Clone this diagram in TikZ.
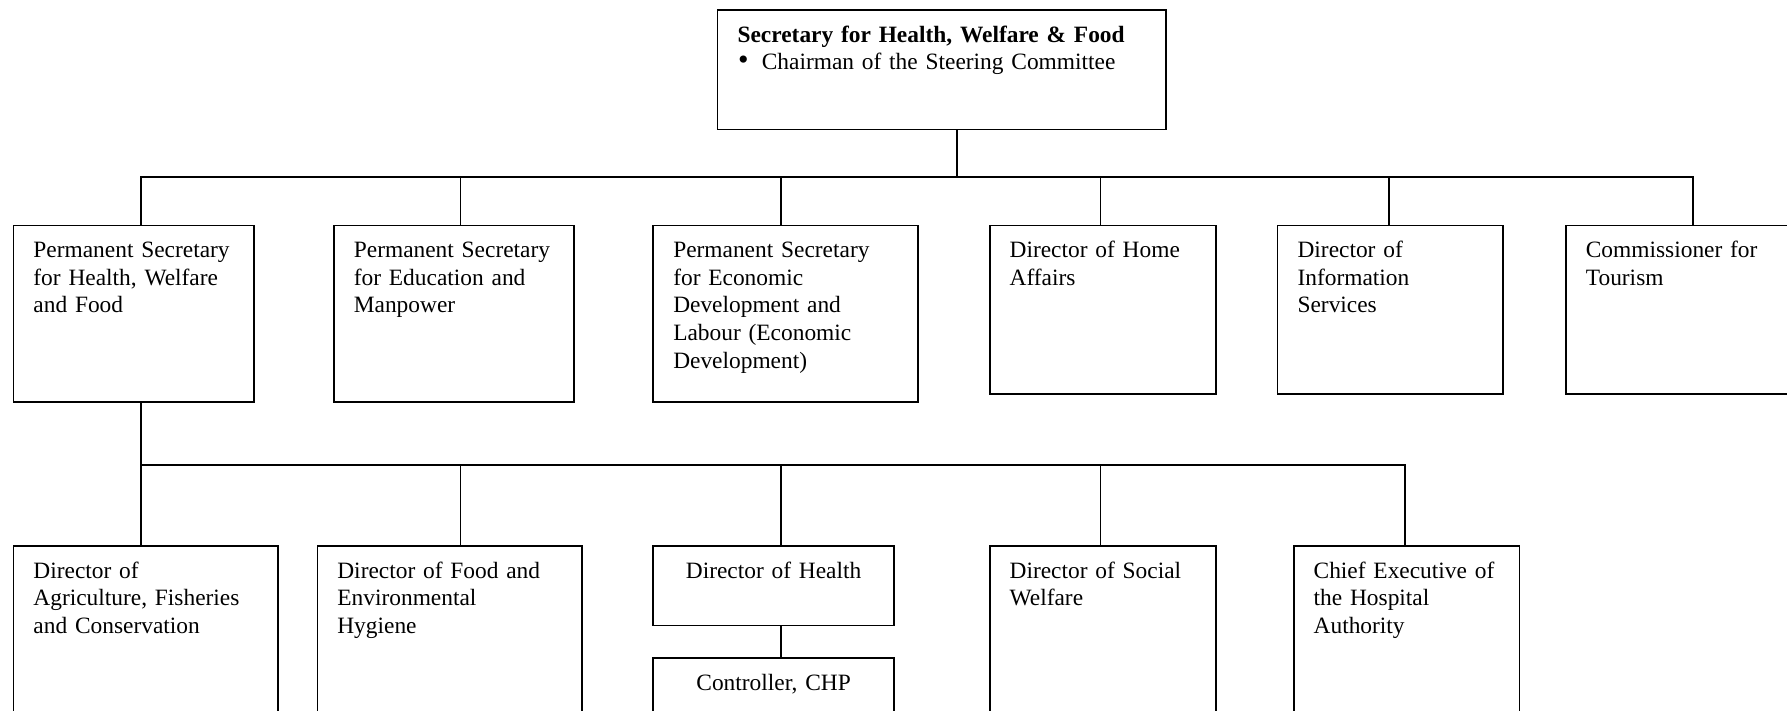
\documentclass[tikz,border=0pt]{standalone}
\usepackage{fontspec}
\setmainfont{Liberation Serif}
\newcommand\nohyph{\hyphenpenalty=10000\relax\exhyphenpenalty=10000\relax}
\begin{document}
\begin{tikzpicture}[x=1pt,y=-1pt,
  obox/.style={draw, line width=1.7pt, anchor=north west, inner xsep=20pt, inner ysep=0pt,
    align=left, text height=32.2pt,
    font=\fontsize{23.4}{27.6}\selectfont\nohyph},
  ocenter/.style={obox, align=center},
  wire/.style={line width=1.7pt}]
\useasboundingbox (0,0) rectangle (1787,710);
% top
\node[obox, text width=408.3pt, text depth=87.5pt] (top) at (716.7,9)
  {\textbf{Secretary~for~Health,~Welfare~\&~Food}\\\makebox[24.3pt][l]{\hspace{0.5pt}{\fontsize{30}{30}\selectfont\textbullet}}Chairman~of~the~Steering~Committee};
% row 1
\node[obox, text width=200.2pt, text depth=144.3pt] (b1) at (12.6,224.7)
  {Permanent~Secretary\\for~Health,~Welfare\\and~Food};
\node[obox, text width=200pt, text depth=144.3pt] (b2) at (333,224.7)
  {Permanent~Secretary\\for~Education~and\\Manpower};
\node[obox, text width=224.5pt, text depth=144.3pt] (b3) at (652.4,224.7)
  {Permanent~Secretary\\for~Economic\\Development~and\\Labour~(Economic\\Development)};
\node[obox, text width=186.2pt, text depth=136.3pt] (b4) at (988.8,224.7)
  {Director~of~Home\\Affairs};
\node[obox, text width=185.6pt, text depth=136.3pt] (b5) at (1276.7,224.7)
  {Director~of\\Information\\Services};
\node[obox, text width=200pt, text depth=136.3pt] (b6) at (1565,224.7)
  {Commissioner~for\\Tourism};
% row 2
\node[obox, text width=224.4pt, text depth=167.8pt] (c1) at (12.6,545)
  {Director~of\\Agriculture,~Fisheries\\and~Conservation};
\node[obox, text width=224.5pt, text depth=167.8pt] (c2) at (316.5,545)
  {Director~of~Food~and\\Environmental\\Hygiene};
\node[ocenter, text width=200.7pt, text depth=47.3pt] (c3) at (652.4,545)
  {Director~of~Health};
\node[ocenter, text width=200.7pt, text depth=100pt] (c3b) at (652.4,657.3)
  {Controller,~CHP};
\node[obox, text width=186.2pt, text depth=167.8pt] (c4) at (988.8,545)
  {Director~of~Social\\Welfare};
\node[obox, text width=185.8pt, text depth=167.8pt] (c5) at (1292.8,545)
  {Chief~Executive~of\\the~Hospital\\Authority};
% junctions
\coordinate (k0) at (956.7,176.7);
\coordinate (k1) at (140.8,176.7);
\coordinate (k2) at (460.4,176.7);
\coordinate (k3) at (780.7,176.7);
\coordinate (k4) at (1100.6,176.7);
\coordinate (k5) at (1389.2,176.7);
\coordinate (k6) at (1692.7,176.7);
\coordinate (m1) at (140.8,465);
\coordinate (m2) at (460.4,465);
\coordinate (m3) at (780.7,465);
\coordinate (m4) at (1100.6,465);
\coordinate (m5) at (1405.2,465);
% connectors level 1
\draw[wire] (top.south -| k0) -- (k0);
\draw[wire] (b1.north -| k1) -- (k1) -- (k6) -- (b6.north -| k6);
\draw[wire] (k2) -- (b2.north -| k2);
\draw[wire] (k3) -- (b3.north -| k3);
\draw[wire] (k4) -- (b4.north -| k4);
\draw[wire] (k5) -- (b5.north -| k5);
% connectors level 2
\draw[wire] (b1.south -| m1) -- (c1.north -| m1);
\draw[wire] (m1) -- (m5) -- (c5.north -| m5);
\draw[wire] (m2) -- (c2.north -| m2);
\draw[wire] (m3) -- (c3.north -| m3);
\draw[wire] (m4) -- (c4.north -| m4);
\draw[wire] (c3.south -| m3) -- (c3b.north -| m3);
\end{tikzpicture}
\end{document}
